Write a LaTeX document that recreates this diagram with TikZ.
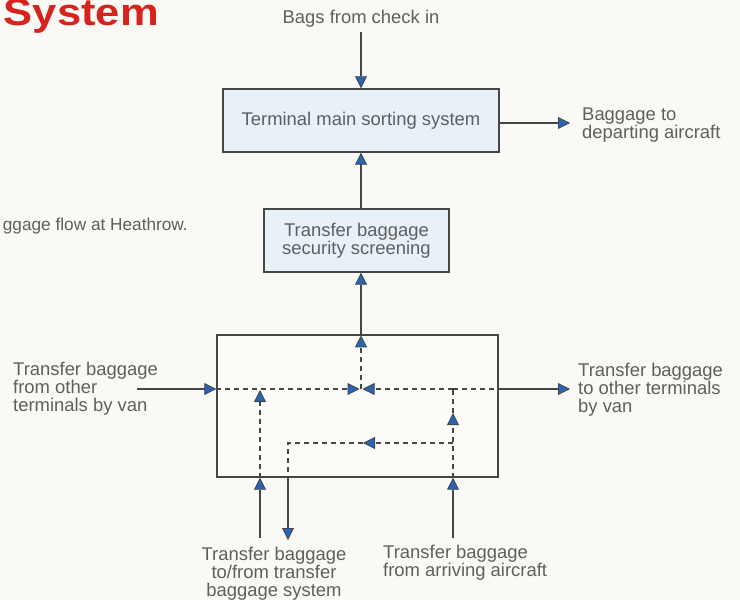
\documentclass[tikz,border=0pt]{standalone}
\usepackage{fontspec}
\setmainfont{Liberation Sans}
\usetikzlibrary{arrows.meta,calc}
\definecolor{arrowblue}{RGB}{40,100,180}
\definecolor{txt}{RGB}{95,95,95}
\definecolor{edge}{RGB}{70,70,70}
\definecolor{boxblue}{RGB}{232,241,248}
\definecolor{bigfill}{RGB}{253,252,248}
\definecolor{bg}{RGB}{250,249,245}
\definecolor{titlered}{RGB}{215,35,30}
\begin{document}
\begin{tikzpicture}[x=1bp,y=-1bp,
  font=\fontsize{18.5}{18}\selectfont,
  box/.style={draw=edge, line width=1.4bp, fill=boxblue, text=txt, align=center, inner sep=0pt},
  arr/.style={draw=edge, line width=1.3bp, -{Triangle[length=12bp,width=12bp,line width=0.8bp,fill=arrowblue]}},
  darr/.style={arr, dash pattern=on 5bp off 4bp},
  dline/.style={draw=edge, line width=1.3bp, dash pattern=on 5bp off 4bp},
  lbl/.style={text=txt, inner sep=0pt}]
\fill[bg] (0,0) rectangle (740,600);
\useasboundingbox (0,0) rectangle (740,600);

% title and caption
\node[anchor=base east, inner sep=0pt, text=titlered, xscale=1.15, transform shape, font=\fontsize{38}{38}\selectfont\bfseries] (title) at (159,26) {System};
\node[lbl, anchor=base east, font=\fontsize{17.3}{18}\selectfont] (caption) at (188,230) {ggage flow at Heathrow.};

% boxes
\node[box, minimum width=276bp, minimum height=63bp] (main) at (361,120.5) {Terminal main sorting system};
\node[box, minimum width=185bp, minimum height=63bp] (scr) at (356.5,240.5) {Transfer baggage\\security screening};
\node[draw=edge, line width=1.4bp, fill=bigfill, minimum width=281bp, minimum height=142bp, inner sep=0pt] (big) at (357.5,406) {};

% top input
\node[lbl] (bags) at (361,19) {Bags from check in};
\coordinate (bagsin) at (361,32);
\draw[arr] (bagsin) -- (main.north);

% departing
\coordinate (depA) at (570,123);
\draw[arr] (main.east |- depA) -- (depA);
\node[lbl, anchor=west, align=left] (dep) at (582,125) {Baggage to\\departing aircraft};

% vertical chain
\draw[arr] (main.south |- scr.north) -- (main.south);
\draw[arr] (main.south |- big.north) -- (main.south |- scr.south);

% internal junctions
\coordinate (J) at (361,389);
\coordinate (JL) at (359.5,389);
\coordinate (JR) at (362.5,389);
\coordinate (R1) at (453,389);
\coordinate (R2) at (453,443);
\coordinate (R3) at (453,413);
\coordinate (M1) at (363,443);
\coordinate (D1) at (288,443);
\coordinate (U1) at (260,390);

% dashed internal flows
\draw[darr] (big.west |- J) -- (JL);
\draw[darr] (R1) -- (JR);
\draw[dline] (R1) -- (big.east |- J);
\draw[darr] (J) -- ($(big.north -| J)+(0,1)$);
\draw[darr] (big.south -| U1) -- (U1);
\draw[darr] (big.south -| R1) -- (R3);
\draw[dline] (R3) -- (R1);
\draw[darr] (R2) -- (M1);
\draw[dline] (M1) -- (D1) -- (big.south -| D1);

% left input
\coordinate (lin) at (137,389);
\draw[arr] (lin) -- (big.west |- J);
\node[lbl, anchor=west, align=left] (lefttxt) at (13,388.5) {Transfer baggage\\from other\\terminals by van};

% right output
\coordinate (rout) at (570,389);
\draw[arr] (big.east |- J) -- (rout);
\node[lbl, anchor=west, align=left] (righttxt) at (578,389.5) {Transfer baggage\\to other terminals\\by van};

% bottom
\coordinate (b1) at (260,538);
\coordinate (b2) at (288,540);
\coordinate (b3) at (453,538);
\draw[arr] (b1) -- (big.south -| b1);
\draw[arr] (big.south -| b2) -- (b2);
\draw[arr] (b3) -- (big.south -| b3);
\node[lbl, align=center] (bot1) at (274,574) {Transfer baggage\\to/from transfer\\baggage system};
\node[lbl, anchor=north west, align=left] (bot2) at (383,545) {Transfer baggage\\from arriving aircraft};
\end{tikzpicture}
\end{document}
